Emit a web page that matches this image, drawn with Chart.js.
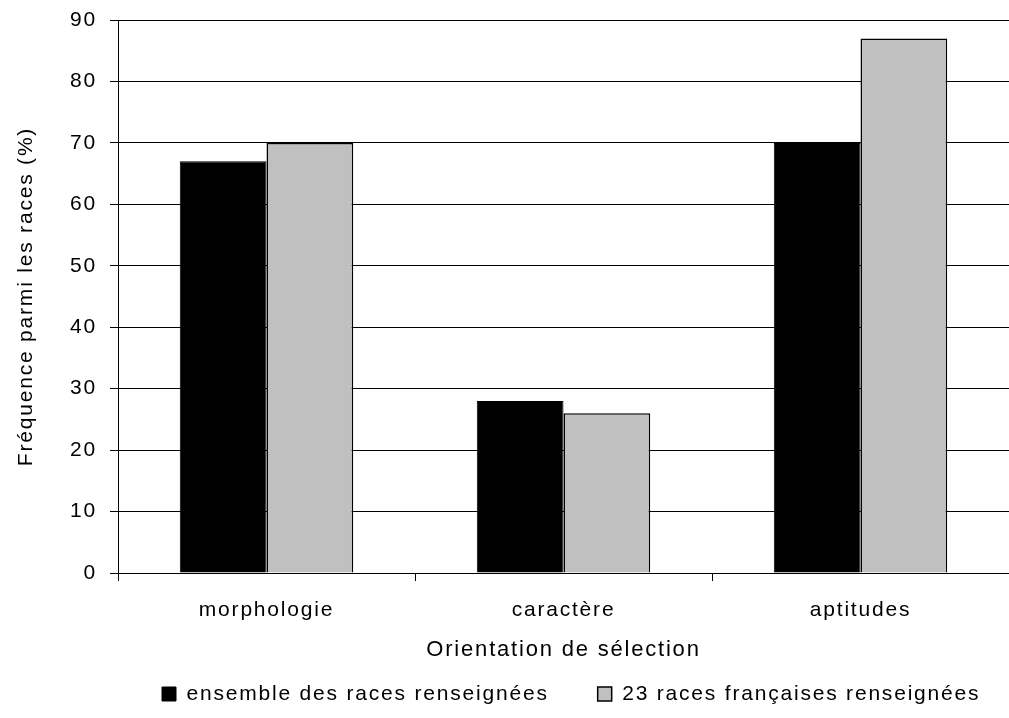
<!DOCTYPE html>
<html>
<head>
<meta charset="utf-8">
<script src="https://cdn.jsdelivr.net/npm/chart.js@4.4.1/dist/chart.umd.min.js"></script>
<style>
  html, body { margin: 0; padding: 0; background: #fff; }
  #wrap { width: 1009px; height: 718px; }
</style>
</head>
<body>
<div id="wrap"><canvas id="chart" width="1009" height="718"></canvas></div>
<script>
// data
const categories = ['morphologie', 'caractère', 'aptitudes'];
const ensembleValues = [67, 28, 70];
const francaisesValues = [70, 26, 87];
const seriesLabels = ['ensemble des races renseignées', '23 races françaises renseignées'];
const yMin = 0, yMax = 90, yStep = 10;

const FONT = '"Liberation Sans", Arial, sans-serif';
const SPACING = '1.8px'; // the original text is a bit spread out

// letter spacing + legend placement (legend sits low and right in the original)
const tweaks = {
  id: 'tweaks',
  beforeUpdate(chart) {
    chart.ctx.letterSpacing = SPACING;
    const lg = chart.legend;
    if (lg && !lg._patched) {
      const fit = lg.fit.bind(lg);
      lg.fit = function () { fit(); this.height = 54.8; };
      lg._patched = true;
    }
  },
  afterLayout(chart) {
    const lg = chart.legend;
    if (!lg) return;
    const pad = lg.options.labels.padding;
    lg.left = 162 - pad;
    lg.right = 1300;
    lg.top = 694 - 10.5 - pad;
    lg.bottom = 718;
  },
  beforeDraw(chart) {
    chart.ctx.letterSpacing = SPACING;
  }
};

new Chart(document.getElementById('chart'), {
  type: 'bar',
  data: {
    labels: categories,
    datasets: [
      { label: seriesLabels[0], data: ensembleValues, backgroundColor: '#000000', borderColor: '#000000', borderWidth: 1 },
      { label: seriesLabels[1], data: francaisesValues, backgroundColor: '#c0c0c0', borderColor: '#000000', borderWidth: 1.5 }
    ]
  },
  options: {
    responsive: false,
    animation: false,
    layout: { padding: { top: 20, left: 0, right: 0, bottom: 0 } },
    datasets: { bar: { categoryPercentage: 0.584, barPercentage: 1.0 } },
    plugins: {
      tooltip: { enabled: false },
      legend: {
        position: 'bottom',
        align: 'start',
        labels: {
          color: '#000',
          font: { family: FONT, size: 21 },
          boxWidth: 14,
          boxHeight: 14,
          padding: 49
        }
      }
    },
    scales: {
      x: {
        grid: { offset: true, drawOnChartArea: false, drawTicks: true, tickLength: 8, color: '#000' },
        border: { color: '#000', width: 1 },
        ticks: { color: '#000', font: { family: FONT, size: 21 }, padding: 16.4 },
        title: { display: true, text: 'Orientation de sélection', color: '#000', font: { family: FONT, size: 22 }, padding: 0 },
        afterFit(scale) { scale.height = 90.2; scale.paddingLeft = 0; scale.paddingRight = 0; }
      },
      y: {
        min: yMin,
        max: yMax,
        grid: { color: '#000', tickLength: 8, drawTicks: true },
        border: { color: '#000', width: 1 },
        ticks: { stepSize: yStep, color: '#000', font: { family: FONT, size: 21 }, padding: 13 },
        title: { display: true, text: 'Fréquence parmi les races (%)', color: '#000', font: { family: FONT, size: 21 }, padding: { top: 14, bottom: 0 } },
        afterFit(scale) { scale.width = 118; scale.paddingTop = 0; scale.paddingBottom = 0; }
      }
    }
  },
  plugins: [tweaks]
});
</script>
</body>
</html>
